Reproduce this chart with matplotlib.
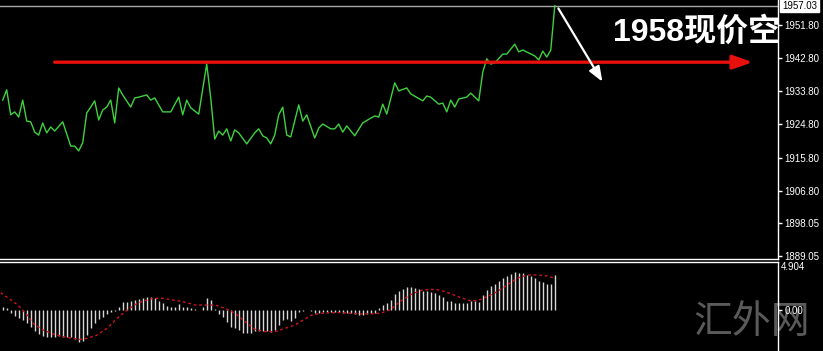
import matplotlib
matplotlib.use('Agg')
import matplotlib.pyplot as plt

plt.rcParams['font.family'] = ['Liberation Sans', 'Noto Sans CJK SC', 'DejaVu Sans']

# close price (bar index, price)
price_idx = [0, 1, 2, 3, 4, 5, 6, 7, 8, 9, 10, 11, 12, 13, 15, 17, 18, 19, 20, 21,
             22, 23, 24, 25, 26, 27, 28, 29, 30, 32, 33, 34, 36, 37, 38, 40, 42, 44, 45, 46,
             47, 49, 51, 52, 53, 54, 55, 56, 57, 58, 59, 61, 63, 64, 65, 66, 67, 68, 69, 70,
             71, 72, 74, 75, 76, 78, 79, 80, 82, 83, 84, 85, 86, 88, 90, 92, 93, 94, 95, 96,
             98, 99, 101, 102, 105, 106, 107, 109, 110, 111, 112, 113, 114, 116, 117, 119, 120, 121, 122, 123,
             125, 126, 128, 129, 130, 133, 134, 135, 136, 137, 138]
price_val = [1931.4, 1934.2, 1927.4, 1928.2, 1926.8, 1931.4, 1925.7, 1925.5, 1922.7, 1921.9,
             1925.2, 1922.5, 1924.1, 1923.0, 1925.5, 1918.9, 1918.9, 1917.6, 1919.8, 1927.9,
             1929.5, 1931.2, 1926.0, 1928.7, 1929.5, 1931.4, 1925.2, 1934.7, 1932.8, 1929.5,
             1932.0, 1932.2, 1932.8, 1931.4, 1932.0, 1928.2, 1928.2, 1932.2, 1927.4, 1931.4,
             1929.3, 1927.6, 1941.2, 1932.0, 1920.8, 1923.0, 1921.9, 1923.6, 1920.3, 1923.3,
             1922.5, 1919.5, 1922.5, 1923.6, 1921.7, 1921.1, 1919.5, 1921.9, 1927.4, 1929.5,
             1921.9, 1921.4, 1930.1, 1925.7, 1927.4, 1921.1, 1923.8, 1924.9, 1923.6, 1923.6,
             1924.9, 1922.7, 1924.4, 1921.7, 1925.2, 1926.5, 1927.1, 1926.8, 1930.3, 1927.6,
             1936.1, 1933.9, 1934.7, 1933.1, 1931.2, 1932.5, 1932.2, 1930.3, 1930.6, 1928.2,
             1931.4, 1929.5, 1931.7, 1932.2, 1933.3, 1931.2, 1939.0, 1942.6, 1941.2, 1941.5,
             1943.9, 1943.9, 1946.6, 1944.5, 1945.0, 1943.4, 1942.3, 1944.7, 1943.1, 1945.0,
             1957.0]

bid_price = 1957.03
resist_level = 1941.7
price_ticks = [1951.80, 1942.80, 1933.80, 1924.80, 1915.80, 1906.80, 1898.05, 1889.05]

# MACD histogram, one value per bar
macd_hist = [0.27, 0.17, -0.27, -0.61, -0.85, -1.02, -1.36, -1.70, -2.11, -2.45,
             -2.66, -2.79, -2.79, -2.79, -2.66, -2.79, -2.73, -2.79, -3.00, -3.24,
             -3.13, -2.56, -1.87, -1.29, -0.95, -0.68, -0.41, -0.17, -0.07, 0.34,
             0.85, 0.85, 0.95, 1.02, 1.09, 1.19, 1.29, 1.29, 1.19, 0.95,
             0.68, 0.41, 0.34, 0.34, 0.58, 0.27, 0.34, 0.17, 0.07, 0.03,
             0.34, 1.26, 1.02, 0.07, -0.41, -0.68, -1.19, -1.70, -1.87, -2.04,
             -2.32, -2.38, -2.32, -2.11, -2.11, -2.11, -2.11, -2.21, -2.04, -1.53,
             -1.02, -0.95, -1.09, -0.85, -0.17, -0.07, 0.03, -0.10, -0.27, -0.27,
             -0.24, -0.24, -0.20, -0.20, -0.20, -0.27, -0.34, -0.34, -0.41, -0.51,
             -0.51, -0.41, -0.34, -0.27, 0.17, 0.51, 0.68, 1.02, 1.64, 1.98,
             2.11, 2.32, 2.32, 2.21, 2.11, 1.98, 1.98, 1.87, 1.77, 1.53,
             1.29, 0.95, 0.95, 0.75, 0.75, 0.75, 0.75, 0.95, 0.95, 0.85,
             1.53, 2.04, 2.45, 2.66, 3.00, 3.24, 3.48, 3.68, 3.92, 3.82,
             3.82, 3.58, 3.48, 3.24, 3.00, 2.90, 2.66, 2.66, 3.58]

# signal line (red dotted)
sig_idx = [-0.5, 1.8, 3.8, 6.1, 7.6, 10.1, 12.6, 15.1, 17.6, 19.3, 21.1, 23.6, 26.1, 28.6,
           31.1, 33.6, 36.1, 37.6, 40.1, 42.6, 45.1, 48.1, 50.6, 53.1, 55.6, 58.1, 60.6, 63.1,
           65.6, 68.1, 70.6, 73.1, 75.1, 77.3, 79.8, 82.3, 84.8, 87.3, 89.8, 92.3, 94.3, 96.8,
           99.3, 101.8, 104.3, 106.8, 109.3, 111.8, 114.3, 116.8, 118.6, 121.1, 123.6, 126.1,
           128.6, 131.1, 133.6, 136.1, 138.0]
sig_val = [1.77, 1.09, 0.51, -0.51, -1.36, -2.04, -2.45, -2.73, -2.90, -3.00, -2.90, -2.56, -1.87, -0.85,
           0.00, 0.68, 1.02, 1.19, 1.19, 1.02, 0.85, 0.51, 0.51, 0.51, 0.17, -0.34, -1.19, -1.98,
           -2.21, -2.21, -1.87, -1.53, -1.02, -0.51, -0.34, -0.27, -0.27, -0.34, -0.41, -0.38, -0.34, 0.00,
           0.85, 1.53, 1.98, 2.11, 2.04, 1.70, 1.29, 0.95, 0.95, 1.36, 1.87, 2.56,
           3.24, 3.58, 3.58, 3.48, 3.24]
macd_top = 4.904

W, H = 823, 351
fig = plt.figure(figsize=(W / 100, H / 100), dpi=100, facecolor='black')

x_lo, x_hi = -0.675, 193.8
ax_right = 778 / W

# main price window
ax = fig.add_axes([0, 1 - 259 / H, ax_right, 259 / H], facecolor='black')
ax.set_xlim(x_lo, x_hi)
ax.set_ylim(1888.24, 1958.59)
ax.axhline(bid_price, color='#a8a8a8', lw=1, zorder=1)
ax.plot(price_idx, price_val, color='#3fd23f', lw=1, zorder=3)

# red horizontal arrow
ax.annotate('', xy=(187.5, resist_level), xytext=(13.0, resist_level),
            arrowprops=dict(arrowstyle='-|>,head_length=1.0,head_width=0.35', color='#e8100c',
                            lw=2.4, mutation_scale=12, shrinkA=0, shrinkB=0), zorder=4)
# white arrow pointing down
ax.annotate('', xy=(149.9, 1936.4), xytext=(138.9, 1956.3),
            arrowprops=dict(arrowstyle='-|>,head_length=0.9,head_width=0.35', color='white',
                            lw=1.6, mutation_scale=10, shrinkA=0, shrinkB=0), zorder=5)

ax.text(152.6, 1947.5, '1958现价空', color='white', fontsize=23, fontweight='bold',
        ha='left', va='baseline', clip_on=True, zorder=6)

ax.yaxis.tick_right()
ax.set_yticks(price_ticks)
ax.set_yticklabels(['%.2f' % v for v in price_ticks])
ax.set_xticks([])
ax.tick_params(axis='y', colors='white', labelsize=7, length=3, width=1, pad=1.5)
for s in ['left', 'top']:
    ax.spines[s].set_visible(False)
for s in ['right', 'bottom']:
    ax.spines[s].set_color('white')
    ax.spines[s].set_linewidth(1)

ax.text(1.005, bid_price, '%.2f' % bid_price, transform=ax.get_yaxis_transform(),
        ha='left', va='center', fontsize=7, color='black', clip_on=False,
        bbox=dict(facecolor='white', edgecolor='white', pad=1.2))

# MACD window
ax2 = fig.add_axes([0, 0, ax_right, 89 / H], facecolor='black')
ax2.set_xlim(x_lo, x_hi)
ax2.set_ylim(-4.19, macd_top)
ax2.vlines(range(len(macd_hist)), 0, macd_hist, color='#d8d8d8', lw=1)
ax2.plot(sig_idx, sig_val, color='#d0141c', lw=1, linestyle=(0, (2, 2)))

ax2.yaxis.tick_right()
ax2.set_yticks([0])
ax2.set_yticklabels(['0.00'])
ax2.set_xticks([])
ax2.tick_params(axis='y', colors='white', labelsize=7, length=3, width=1, pad=1.5)
for s in ['left', 'bottom']:
    ax2.spines[s].set_visible(False)
for s in ['right', 'top']:
    ax2.spines[s].set_color('white')
    ax2.spines[s].set_linewidth(1)
ax2.text(1.004, macd_top, '%.3f' % macd_top, transform=ax2.get_yaxis_transform(),
         ha='left', va='top', fontsize=7, color='white', clip_on=False)

# watermark
ax2.text(752 / W, 1 - 322 / H, '汇外网', transform=fig.transFigure, color='#5a5a5a',
         fontsize=28, family=['Noto Sans CJK SC'], fontweight='light',
         ha='center', va='center', clip_on=False, zorder=0.5)

fig.savefig('out.png', dpi=100, facecolor='black')
